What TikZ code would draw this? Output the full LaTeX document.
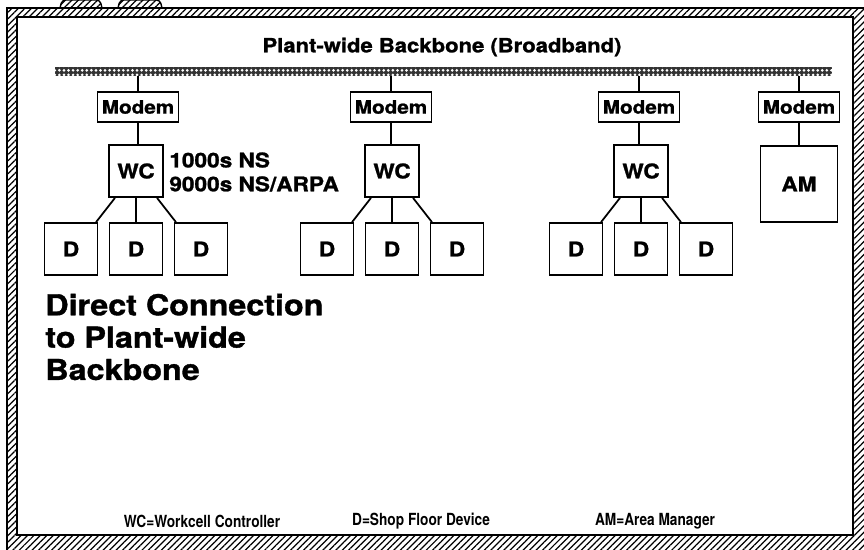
\documentclass[tikz,border=0pt]{standalone}
\usepackage{fontspec}
\setmainfont{TeX Gyre Heros}
\newfontfamily\widefont[FakeStretch=1.12, FakeBold=1.2]{TeX Gyre Heros}
\newfontfamily\legendfont[FakeStretch=0.82]{TeX Gyre Heros}
\usetikzlibrary{patterns.meta}

\begin{document}
\begin{tikzpicture}[
    x=0.02cm, y=-0.02cm,
    box/.style={rectangle, draw=black, line width=1pt, fill=white, inner sep=0pt, font=\widefont\bfseries\fontsize{11.5}{13}\selectfont},
    modembox/.style={box, minimum width=1.62cm, minimum height=0.6cm, font=\widefont\bfseries\fontsize{10.5}{12}\selectfont},
    wcbox/.style={box, minimum width=1.08cm, minimum height=1.04cm},
    devbox/.style={box, minimum width=1.06cm, minimum height=1.04cm},
    ambox/.style={box, minimum width=1.54cm, minimum height=1.52cm},
    link/.style={draw=black, line width=1pt},
    hatch/.style={pattern={Lines[angle=45, distance=2.6pt, line width=0.7pt]}},
    bus/.style={rectangle, minimum width=15.54cm, minimum height=0.18cm, inner sep=0pt, fill=black!80,
        postaction={pattern={Dots[distance=2.6pt, radius=0.85pt]}, pattern color=white}},
    legend/.style={font=\legendfont\bfseries\fontsize{9.5}{11}\selectfont, inner sep=0pt}
]
    \useasboundingbox (0,0) rectangle (864,550);

    % hatched frame with the two tabs on top
    \fill[hatch, even odd rule] (7,8) rectangle (864,550) (17,17) rectangle (853,535);
    \draw[line width=0.8pt] (7,550) -- (7,8) -- (864,8);
    \draw[line width=0.8pt] (17,17) rectangle (853,535);
    \filldraw[hatch, draw=black, line width=0.8pt, rounded corners=2pt] (60,8) -- (62,0) -- (100,0) -- (102,8);
    \filldraw[hatch, draw=black, line width=0.8pt, rounded corners=2pt] (118,8) -- (120,0) -- (160,0) -- (162,8);

    \node[font=\widefont\bfseries\fontsize{11.2}{12}\selectfont] (title) at (442,47) {Plant-wide Backbone (Broadband)};
    \node[bus] (bus) at (443.5,71.5) {};

    \node[modembox] (modem1) at (138,107) {Modem};
    \node[modembox] (modem2) at (391,107) {Modem};
    \node[modembox] (modem3) at (639,107) {Modem};
    \node[modembox] (modem4) at (799,107) {Modem};

    \node[wcbox] (wc1) at (136,171) {WC};
    \node[wcbox] (wc2) at (392,171) {WC};
    \node[wcbox] (wc3) at (641,171) {WC};
    \node[ambox] (am) at (799,184) {AM};

    \node[anchor=west, align=left, inner sep=0pt, font=\widefont\bfseries\fontsize{11.5}{13.6}\selectfont] (wcnote) at (169,172) {1000s NS\\9000s NS/ARPA};

    \node[devbox] (d1) at (71,249) {D};
    \node[devbox] (d2) at (136,249) {D};
    \node[devbox] (d3) at (201,249) {D};
    \node[devbox] (d4) at (327,249) {D};
    \node[devbox] (d5) at (392,249) {D};
    \node[devbox] (d6) at (457,249) {D};
    \node[devbox] (d7) at (576,249) {D};
    \node[devbox] (d8) at (641,249) {D};
    \node[devbox] (d9) at (706,249) {D};

    \draw[link] (modem1.north) -- (modem1.north |- bus.south);
    \draw[link] (modem2.north) -- (modem2.north |- bus.south);
    \draw[link] (modem3.north) -- (modem3.north |- bus.south);
    \draw[link] (modem4.north) -- (modem4.north |- bus.south);

    \draw[link] (modem1.south) -- (modem1.south |- wc1.north);
    \draw[link] (modem2.south) -- (modem2.south |- wc2.north);
    \draw[link] (modem3.south) -- (modem3.south |- wc3.north);
    \draw[link] (modem4.south) -- (modem4.south |- am.north);

    \draw[link] (wc1.-128) -- (d1.47);
    \draw[link] (wc1.south) -- (d2.north);
    \draw[link] (wc1.-52) -- (d3.133);
    \draw[link] (wc2.-128) -- (d4.47);
    \draw[link] (wc2.south) -- (d5.north);
    \draw[link] (wc2.-52) -- (d6.133);
    \draw[link] (wc3.-128) -- (d7.47);
    \draw[link] (wc3.south) -- (d8.north);
    \draw[link] (wc3.-52) -- (d9.133);

    \node[anchor=west, align=left, inner sep=0pt, font=\widefont\bfseries\fontsize{16.4}{18.4}\selectfont] (caption) at (45,337) {Direct Connection\\to Plant-wide\\Backbone};

    \node[legend] (leg1) at (202,521) {WC=Workcell Controller};
    \node[legend] (leg2) at (421,521) {D=Shop Floor Device};
    \node[legend] (leg3) at (655,521) {AM=Area Manager};
\end{tikzpicture}
\end{document}
